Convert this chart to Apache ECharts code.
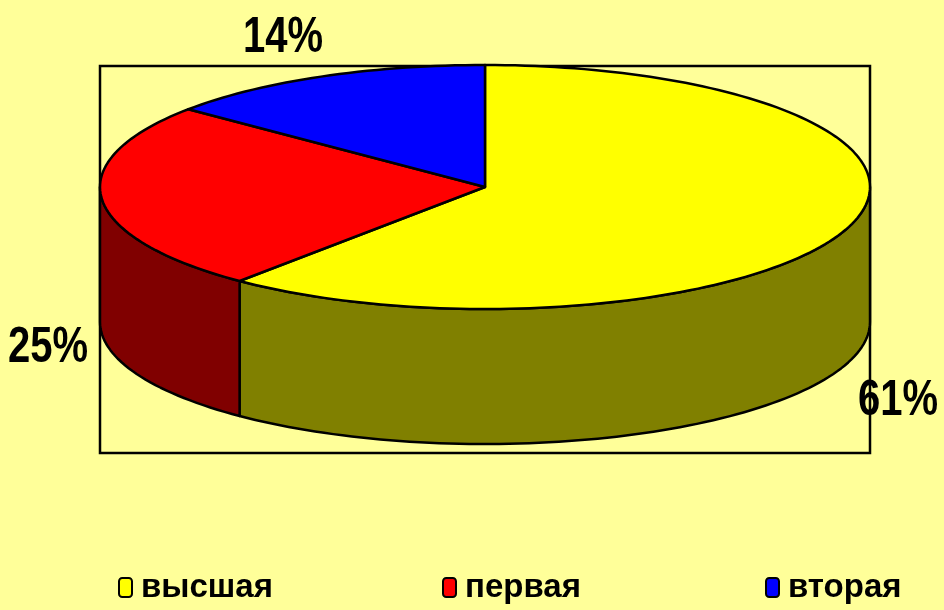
<!DOCTYPE html>
<html>
<head>
<meta charset="utf-8">
<script src="https://cdn.jsdelivr.net/npm/echarts@6/dist/echarts.min.js"></script>
<style>
  html, body { margin: 0; padding: 0; background: #FFFF99; }
  #chartMain { width: 944px; height: 610px; }
</style>
</head>
<body>
<div id="chartMain"></div>
<script>
// данные диаграммы
var categories = ['высшая', 'первая', 'вторая'];
var shares = [61, 25, 14];

// цвета: верх и боковина
var topColors = ['#FFFF00', '#FF0000', '#0000FF'];
var sideColors = ['#808000', '#800000', '#000080'];

var FONT = '"Liberation Sans", Arial, sans-serif';

// геометрия "объёмного" пирога
var pie3d = { cx: 485, cy: 187, rx: 385, ry: 122, depth: 135 };

function pt(a, dy) {
    var r = a * Math.PI / 180;
    return [pie3d.cx + pie3d.rx * Math.cos(r), pie3d.cy - pie3d.ry * Math.sin(r) + (dy || 0)];
}

function arc(a0, a1, dy) {
    // от a0 до a1 (по часовой, a1 < a0)
    var pts = [];
    var n = Math.max(2, Math.ceil((a0 - a1) / 1.5));
    for (var i = 0; i <= n; i++) {
        pts.push(pt(a0 - (a0 - a1) * i / n, dy));
    }
    return pts;
}

function renderSlice(params, api) {
    var idx = params.seriesIndex;
    var start = api.value(0);
    var val = api.value(1);
    var a0 = 90 - start * 3.6;
    var a1 = 90 - (start + val) * 3.6;
    var children = [];

    // боковина: только передняя половина (-180..0)
    var hi = Math.min(a0, 0), lo = Math.max(a1, -180);
    if (hi > lo) {
        var top = arc(hi, lo, 0);
        var bottom = arc(hi, lo, pie3d.depth).reverse();
        children.push({
            type: 'polygon',
            z2: 1,
            shape: { points: top.concat(bottom) },
            style: { fill: sideColors[idx], stroke: '#000', lineWidth: 2.5, lineJoin: 'round' }
        });
    }

    // верхняя грань
    children.push({
        type: 'polygon',
        z2: 5,
        shape: { points: [[pie3d.cx, pie3d.cy]].concat(arc(a0, a1, 0)) },
        style: { fill: topColors[idx], stroke: '#000', lineWidth: 2.5, lineJoin: 'round' }
    });

    // подпись в процентах
    var m = (a0 + a1) / 2 * Math.PI / 180;
    var s = Math.sin(m);
    var lx = pie3d.cx + pie3d.rx * 1.14 * Math.cos(m);
    var ly = pie3d.cy - pie3d.ry * 1.35 * s + (s < 0 ? pie3d.depth * (1.04 - 0.4 * s) : 0);
    if (s > 0) lx -= 15;
    children.push({
        type: 'text',
        z2: 10,
        x: lx,
        y: ly,
        scaleX: 0.8,
        style: {
            text: val + '%',
            fill: '#000',
            font: 'bold 50px ' + FONT,
            align: 'center',
            verticalAlign: 'middle'
        }
    });

    return { type: 'group', children: children };
}

var series = [];
var acc = 0;
for (var i = 0; i < categories.length; i++) {
    series.push({
        type: 'custom',
        name: categories[i],
        coordinateSystem: 'none',
        itemStyle: { color: topColors[i] },
        renderItem: renderSlice,
        data: [[acc, shares[i]]],
        silent: true
    });
    acc += shares[i];
}

var legendLeft = [118, 442, 765];
var legends = categories.map(function (name, i) {
    return {
        data: [name],
        left: legendLeft[i],
        top: 571,
        padding: 0,
        icon: 'roundRect',
        itemWidth: 13,
        itemHeight: 19,
        selectedMode: false,
        itemStyle: { borderColor: '#000', borderWidth: 2 },
        textStyle: { fontSize: 33, fontWeight: 'bold', fontFamily: FONT, color: '#000', padding: [0, 0, 0, 4] }
    };
});

var option = {
    backgroundColor: '#FFFF99',
    animation: false,
    graphic: [{
        type: 'rect',
        z: -1,
        shape: { x: 100, y: 66, width: 770, height: 387 },
        style: { fill: 'transparent', stroke: '#000', lineWidth: 2.5 }
    }],
    legend: legends,
    series: series
};

var mychart = echarts.init(document.getElementById('chartMain'));
mychart.setOption(option);
</script>
</body>
</html>
